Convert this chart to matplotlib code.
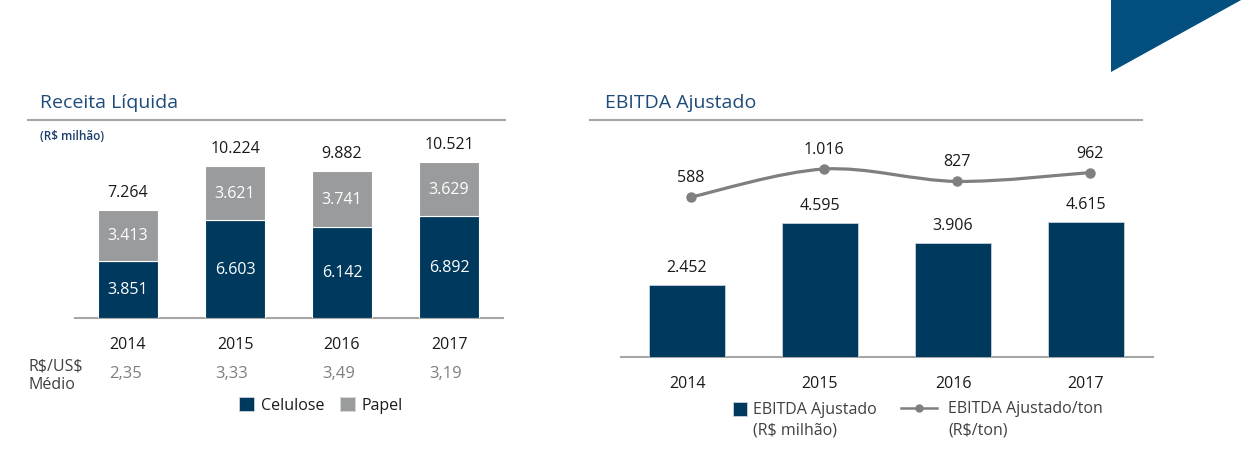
import matplotlib
matplotlib.use("Agg")
from matplotlib import pyplot as plt
from matplotlib.path import Path
from matplotlib.patches import PathPatch, Polygon, Rectangle
from matplotlib.lines import Line2D
import numpy as np

plt.rcParams['font.family'] = ['Open Sans', 'DejaVu Sans']
plt.rcParams['text.parse_math'] = False

# data
anos = ["2014", "2015", "2016", "2017"]
celulose = [3851, 6603, 6142, 6892]
papel = [3413, 3621, 3741, 3629]
receita_total = [7264, 10224, 9882, 10521]
cambio = ["2,35", "3,33", "3,49", "3,19"]
ebitda = [2452, 4595, 3906, 4615]
ebitda_ton = [588, 1016, 827, 962]

NAVY = "#00395e"
GRAY = "#9a9b9c"
LINE_GRAY = "#7f7f7f"
TITLE = "#1f4b7a"
RULE = "#a6a6a6"

W, H = 1259, 456
fig = plt.figure(figsize=(W / 100, H / 100), dpi=100)


def fx(x):
    return x / W


def fy(y):
    return 1 - y / H


def fmt(v):
    return f"{v:,}".replace(",", ".")


def hline(x0, x1, y, color=RULE, lw=1.5):
    fig.add_artist(Line2D([fx(x0), fx(x1)], [fy(y), fy(y)], transform=fig.transFigure,
                          color=color, lw=lw))


# corner triangle
fig.add_artist(Polygon([[fx(1111), fy(0)], [fx(1111), fy(73)], [fx(1243), fy(0)]],
                       closed=True, transform=fig.transFigure, color="#024f80", lw=0))

# ---------------- left: Receita Liquida ----------------
fig.text(fx(40), fy(103), "Receita Líquida", fontsize=14, color=TITLE, va="center")
hline(28, 505, 121)
fig.text(fx(40), fy(137), "(R$ milhão)", fontsize=8.5, color="#1a3e6e",
         fontweight="semibold", va="center")

ax1 = fig.add_axes([fx(74.5), fy(319), 428 / W, 198 / H])
x = np.arange(len(anos))
w1 = 60 / 107
ax1.bar(x, celulose, w1, color=NAVY, edgecolor="white", lw=0.8, zorder=3)
ax1.bar(x, papel, w1, bottom=celulose, color=GRAY, edgecolor="white", lw=0.8, zorder=3)
ax1.set_xlim(-0.5, 3.5)
ax1.set_ylim(0, 13315)
for s in ["top", "right", "left"]:
    ax1.spines[s].set_visible(False)
ax1.spines["bottom"].set_color(RULE)
ax1.spines["bottom"].set_linewidth(1.5)
ax1.set_xticks([])
ax1.set_yticks([])
ax1.patch.set_alpha(0)

for i in range(len(anos)):
    ax1.text(x[i], celulose[i] / 2, fmt(celulose[i]), ha="center", va="center",
             color="white", fontsize=11.5, zorder=4)
    ax1.text(x[i], celulose[i] + papel[i] / 2, fmt(papel[i]), ha="center", va="center",
             color="white", fontsize=11.5, zorder=4)
    ax1.annotate(fmt(receita_total[i]), (x[i], receita_total[i]), xytext=(0, 18),
                 textcoords="offset pixels", ha="center", va="center", fontsize=11.5,
                 color="#1a1a1a")
    ax1.annotate(anos[i], (x[i], 0), xytext=(0, -26), textcoords="offset pixels",
                 ha="center", va="center", fontsize=11.5, color="#1a1a1a",
                 annotation_clip=False)
    ax1.annotate(cambio[i], (x[i], 0), xytext=(-3, -55), textcoords="offset pixels",
                 ha="center", va="center", fontsize=12, color="#7f7f7f",
                 annotation_clip=False)

fig.text(fx(28), fy(367), "R$/US$", fontsize=11.5, color="#404040", va="center")
fig.text(fx(28), fy(385), "Médio", fontsize=11.5, color="#404040", va="center")

h_cel = Rectangle((0, 0), 1, 1, facecolor=NAVY, edgecolor="#c9d3dc", lw=0.6)
h_pap = Rectangle((0, 0), 1, 1, facecolor=GRAY, edgecolor="#d9d9d9", lw=0.6)
fig.legend([h_cel, h_pap], ["Celulose", "Papel"], loc="center left",
           bbox_to_anchor=(fx(239), fy(406)), ncol=2, frameon=False, fontsize=11.5,
           handlelength=0.95, handleheight=0.95, handletextpad=0.4, columnspacing=1.0,
           borderpad=0, borderaxespad=0, labelcolor="#1a1a1a")

# ---------------- right: EBITDA Ajustado ----------------
fig.text(fx(605), fy(103), "EBITDA Ajustado", fontsize=14, color=TITLE, va="center")
hline(590, 1142, 121)

ax2 = fig.add_axes([fx(620.5), fy(358), 532 / W, 237 / H])
w2 = 76 / 133
ax2.bar(x, ebitda, w2, color=NAVY, edgecolor="#c9d3dc", lw=0.6, zorder=3)
ax2.set_xlim(-0.5, 3.5)
ax2.set_ylim(0, 8116)
for s in ["top", "right", "left"]:
    ax2.spines[s].set_visible(False)
ax2.spines["bottom"].set_color(RULE)
ax2.spines["bottom"].set_linewidth(1.5)
ax2.set_xticks([])
ax2.set_yticks([])
ax2.patch.set_alpha(0)

for i in range(len(anos)):
    ax2.annotate(fmt(ebitda[i]), (x[i], ebitda[i]), xytext=(0, 18),
                 textcoords="offset pixels", ha="center", va="center", fontsize=11.5,
                 color="#1a1a1a")
    ax2.annotate(anos[i], (x[i], 0), xytext=(0, -26), textcoords="offset pixels",
                 ha="center", va="center", fontsize=11.5, color="#1a1a1a",
                 annotation_clip=False)

# line on twin axis, smoothed with bezier segments through the points
ax3 = ax2.twinx()
ax3.set_ylim(-1858, 1766)
ax3.set_axis_off()
xl = x + 0.03
pts = np.column_stack([xl, ebitda_ton]).astype(float)
ext = np.vstack([pts[0], pts, pts[-1]])
verts = [pts[0]]
codes = [Path.MOVETO]
for i in range(len(pts) - 1):
    p0, p1, p2, p3 = ext[i], ext[i + 1], ext[i + 2], ext[i + 3]
    verts += [p1 + (p2 - p0) / 6, p2 - (p3 - p1) / 6, p2]
    codes += [Path.CURVE4] * 3
ax3.add_patch(PathPatch(Path(verts, codes), fill=False, edgecolor=LINE_GRAY, lw=2.3,
                        capstyle="round", zorder=3))
ax3.plot(xl, ebitda_ton, "o", color=LINE_GRAY, ms=6.5, zorder=4)
for i in range(len(anos)):
    ax3.annotate(fmt(ebitda_ton[i]), (xl[i], ebitda_ton[i]), xytext=(0, 20),
                 textcoords="offset pixels", ha="center", va="center", fontsize=11.5,
                 color="#1a1a1a")

# right legend
fig.add_artist(Rectangle((fx(733), fy(417)), 14 / W, 14 / H, transform=fig.transFigure,
                         facecolor=NAVY, edgecolor="#c9d3dc", lw=0.6))
fig.text(fx(753), fy(410), "EBITDA Ajustado", fontsize=11.5, color="#404040", va="center")
fig.text(fx(753), fy(431), "(R$ milhão)", fontsize=11.5, color="#404040", va="center")
fig.add_artist(Line2D([fx(901), fx(937)], [fy(409), fy(409)], transform=fig.transFigure,
                      color=LINE_GRAY, lw=1.8))
fig.add_artist(Line2D([fx(919)], [fy(409)], transform=fig.transFigure, marker="o",
                      color=LINE_GRAY, ms=5))
fig.text(fx(948), fy(409), "EBITDA Ajustado/ton", fontsize=11.5, color="#404040", va="center")
fig.text(fx(948), fy(431), "(R$/ton)", fontsize=11.5, color="#404040", va="center")

fig.savefig("out.png", dpi=100)
